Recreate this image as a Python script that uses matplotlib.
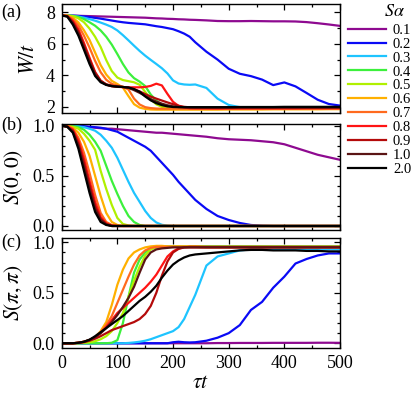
import matplotlib
matplotlib.use("Agg")
import matplotlib.pyplot as plt
from matplotlib.ticker import MultipleLocator

plt.rcParams['font.family'] = ['Liberation Serif', 'DejaVu Serif']
plt.rcParams['mathtext.fontset'] = 'stix'

# time grid (tau t)
T = [0, 10, 20, 30, 40, 50, 60, 70, 80, 90, 100, 110, 120, 130, 140, 150, 160, 170, 180, 190,
     200, 210, 220, 230, 240, 260, 280, 300, 320, 340, 360, 380, 400, 420, 440, 460, 480, 500]

labels = ["0.1", "0.2", "0.3", "0.4", "0.5", "0.6", "0.7", "0.8", "0.9", "1.0", "2.0"]
colors = ["#8e0a90", "#0a0af5", "#1ec4ff", "#3cf03c", "#b0f000", "#ffb000",
          "#ff6a1e", "#ff1414", "#b40a0a", "#5a1414", "#000000"]

# panel (a): W/t
W_01 = [7.80, 7.80, 7.79, 7.78, 7.77, 7.76, 7.75, 7.74, 7.73, 7.72, 7.71, 7.70, 7.69, 7.68, 7.67, 7.66, 7.64, 7.62, 7.61, 7.59, 7.58, 7.56, 7.55, 7.53, 7.52,
        7.49, 7.45, 7.44, 7.44, 7.45, 7.44, 7.43, 7.43, 7.42, 7.38, 7.31, 7.23, 7.14]
W_02 = [7.80, 7.80, 7.79, 7.77, 7.74, 7.70, 7.65, 7.60, 7.54, 7.48, 7.42, 7.37, 7.33, 7.30, 7.27, 7.24, 7.18, 7.12, 7.07, 7.00, 6.93, 6.80, 6.65, 6.45, 6.10,
        5.50, 5.00, 4.42, 4.10, 3.95, 3.73, 3.38, 3.55, 3.30, 2.88, 2.45, 2.18, 2.08]
W_03 = [7.80, 7.80, 7.78, 7.73, 7.66, 7.57, 7.47, 7.35, 7.22, 7.07, 6.85, 6.55, 6.22, 5.88, 5.55, 5.25, 4.98, 4.72, 4.45, 4.12, 3.68, 3.48, 3.42, 3.40, 3.42,
        3.20, 2.52, 2.12, 1.98, 1.95, 1.94, 1.93, 1.93, 1.92, 1.92, 1.92, 1.93, 1.93]
W_04 = [7.80, 7.80, 7.77, 7.71, 7.57, 7.37, 7.15, 6.85, 6.45, 5.95, 5.35, 4.72, 4.18, 3.82, 3.60, 3.32, 2.78, 2.40, 2.15, 2.02, 1.95, 1.91, 1.89, 1.88, 1.88,
        1.88, 1.88, 1.87, 1.88, 1.88, 1.87, 1.88, 1.88, 1.88, 1.88, 1.89, 1.89, 1.89]
W_05 = [7.80, 7.80, 7.76, 7.62, 7.37, 6.97, 6.45, 5.80, 4.97, 4.27, 3.86, 3.70, 3.63, 3.56, 3.40, 2.95, 2.48, 2.16, 2.00, 1.93, 1.90, 1.89, 1.89, 1.88, 1.88,
        1.88, 1.88, 1.88, 1.88, 1.89, 1.89, 1.89, 1.89, 1.89, 1.90, 1.90, 1.90, 1.90]
W_06 = [7.80, 7.79, 7.66, 7.36, 6.86, 6.25, 5.45, 4.65, 4.05, 3.65, 3.45, 3.22, 2.68, 2.17, 1.95, 1.87, 1.83, 1.82, 1.82, 1.82, 1.82, 1.82, 1.82, 1.82, 1.82,
        1.82, 1.82, 1.83, 1.83, 1.83, 1.83, 1.84, 1.84, 1.84, 1.84, 1.84, 1.85, 1.85]
W_07 = [7.80, 7.78, 7.56, 7.16, 6.52, 5.76, 4.92, 4.20, 3.72, 3.46, 3.35, 3.28, 3.10, 2.52, 2.15, 1.98, 1.92, 1.89, 1.88, 1.88, 1.88, 1.88, 1.88, 1.88, 1.88,
        1.88, 1.88, 1.88, 1.88, 1.88, 1.88, 1.88, 1.88, 1.88, 1.88, 1.88, 1.88, 1.88]
W_08 = [7.80, 7.77, 7.46, 6.92, 6.06, 5.12, 4.22, 3.66, 3.41, 3.31, 3.27, 3.25, 3.24, 3.24, 3.24, 3.26, 3.33, 3.47, 3.36, 2.82, 2.32, 2.06, 1.96, 1.91, 1.90,
        1.90, 1.89, 1.90, 1.90, 1.90, 1.90, 1.90, 1.90, 1.90, 1.91, 1.91, 1.91, 1.91]
W_09 = [7.80, 7.76, 7.37, 6.77, 5.92, 5.02, 4.16, 3.66, 3.43, 3.34, 3.29, 3.26, 3.22, 3.11, 2.98, 2.81, 2.65, 2.52, 2.40, 2.28, 2.17, 2.07, 2.00, 1.97, 1.95,
        1.94, 1.94, 1.94, 1.94, 1.94, 1.94, 1.94, 1.94, 1.94, 1.94, 1.94, 1.94, 1.94]
W_10 = [7.80, 7.75, 7.31, 6.66, 5.76, 4.86, 4.06, 3.61, 3.41, 3.33, 3.29, 3.26, 3.21, 3.06, 2.89, 2.69, 2.49, 2.33, 2.20, 2.10, 2.03, 1.99, 1.97, 1.96, 1.96,
        1.96, 1.96, 1.96, 1.96, 1.96, 1.96, 1.96, 1.96, 1.96, 1.96, 1.96, 1.96, 1.96]
W_20 = [7.80, 7.73, 7.22, 6.52, 5.62, 4.72, 3.96, 3.56, 3.39, 3.31, 3.28, 3.26, 3.23, 3.13, 2.96, 2.66, 2.41, 2.23, 2.11, 2.03, 1.99, 1.98, 1.98, 1.98, 1.98,
        1.98, 1.98, 1.98, 1.99, 1.99, 1.99, 1.99, 2.00, 2.00, 2.00, 2.00, 2.00, 2.00]

# panel (b): S(0,0)
B_01 = [1.00, 1.00, 0.995, 0.99, 0.99, 0.985, 0.98, 0.975, 0.97, 0.97, 0.965, 0.96, 0.955, 0.95, 0.945, 0.94, 0.935, 0.93, 0.93, 0.925, 0.92, 0.915, 0.91, 0.905, 0.90,
        0.89, 0.875, 0.865, 0.86, 0.855, 0.845, 0.835, 0.815, 0.78, 0.745, 0.71, 0.685, 0.66]
B_02 = [1.00, 1.00, 1.00, 1.00, 0.995, 0.99, 0.985, 0.98, 0.97, 0.955, 0.94, 0.91, 0.88, 0.85, 0.82, 0.79, 0.75, 0.69, 0.63, 0.57, 0.51, 0.44, 0.38, 0.32, 0.26,
        0.17, 0.10, 0.06, 0.03, 0.01, 0.003, 0.0, 0.0, 0.0, 0.0, 0.0, 0.0, 0.0]
B_03 = [1.00, 1.00, 1.00, 0.995, 0.985, 0.97, 0.95, 0.91, 0.85, 0.78, 0.68, 0.56, 0.44, 0.33, 0.24, 0.15, 0.08, 0.035, 0.012, 0.003, 0.0, 0.0, 0.0, 0.0, 0.0,
        0.0, 0.0, 0.0, 0.0, 0.0, 0.0, 0.0, 0.0, 0.0, 0.0, 0.0, 0.0, 0.0]
B_04 = [1.00, 1.00, 0.995, 0.985, 0.96, 0.91, 0.84, 0.75, 0.60, 0.45, 0.32, 0.20, 0.10, 0.04, 0.01, 0.0, 0.0, 0.0, 0.0, 0.0, 0.0, 0.0, 0.0, 0.0, 0.0,
        0.0, 0.0, 0.0, 0.0, 0.0, 0.0, 0.0, 0.0, 0.0, 0.0, 0.0, 0.0, 0.0]
B_05 = [1.00, 1.00, 0.99, 0.97, 0.92, 0.85, 0.76, 0.55, 0.37, 0.21, 0.08, 0.02, 0.005, 0.0, 0.0, 0.0, 0.0, 0.0, 0.0, 0.0, 0.0, 0.0, 0.0, 0.0, 0.0,
        0.0, 0.0, 0.0, 0.0, 0.0, 0.0, 0.0, 0.0, 0.0, 0.0, 0.0, 0.0, 0.0]
B_06 = [1.00, 1.00, 0.98, 0.93, 0.84, 0.70, 0.50, 0.30, 0.13, 0.04, 0.01, 0.0, 0.0, 0.0, 0.0, 0.0, 0.0, 0.0, 0.0, 0.0, 0.0, 0.0, 0.0, 0.0, 0.0,
        0.0, 0.0, 0.0, 0.0, 0.0, 0.0, 0.0, 0.0, 0.0, 0.0, 0.0, 0.0, 0.0]
B_07 = [1.00, 0.995, 0.97, 0.88, 0.73, 0.53, 0.31, 0.13, 0.04, 0.01, 0.0, 0.0, 0.0, 0.0, 0.0, 0.0, 0.0, 0.0, 0.0, 0.0, 0.0, 0.0, 0.0, 0.0, 0.0,
        0.0, 0.0, 0.0, 0.0, 0.0, 0.0, 0.0, 0.0, 0.0, 0.0, 0.0, 0.0, 0.0]
B_08 = [1.00, 0.995, 0.96, 0.85, 0.67, 0.45, 0.24, 0.09, 0.025, 0.005, 0.0, 0.0, 0.0, 0.0, 0.0, 0.0, 0.0, 0.0, 0.0, 0.0, 0.0, 0.0, 0.0, 0.0, 0.0,
        0.0, 0.0, 0.0, 0.0, 0.0, 0.0, 0.0, 0.0, 0.0, 0.0, 0.0, 0.0, 0.0]
B_09 = [1.00, 0.99, 0.95, 0.82, 0.63, 0.41, 0.20, 0.07, 0.02, 0.0, 0.0, 0.0, 0.0, 0.0, 0.0, 0.0, 0.0, 0.0, 0.0, 0.0, 0.0, 0.0, 0.0, 0.0, 0.0,
        0.0, 0.0, 0.0, 0.0, 0.0, 0.0, 0.0, 0.0, 0.0, 0.0, 0.0, 0.0, 0.0]
B_10 = [1.00, 0.99, 0.94, 0.80, 0.59, 0.37, 0.17, 0.06, 0.015, 0.0, 0.0, 0.0, 0.0, 0.0, 0.0, 0.0, 0.0, 0.0, 0.0, 0.0, 0.0, 0.0, 0.0, 0.0, 0.0,
        0.0, 0.0, 0.0, 0.0, 0.0, 0.0, 0.0, 0.0, 0.0, 0.0, 0.0, 0.0, 0.0]
B_20 = [1.00, 0.99, 0.93, 0.77, 0.55, 0.33, 0.14, 0.04, 0.01, 0.0, 0.0, 0.0, 0.0, 0.0, 0.0, 0.0, 0.0, 0.0, 0.0, 0.0, 0.0, 0.0, 0.0, 0.0, 0.0,
        0.0, 0.0, 0.0, 0.0, 0.0, 0.0, 0.0, 0.0, 0.0, 0.0, 0.0, 0.0, 0.0]

# panel (c): S(pi,pi)
C_01 = [0.0, 0.0, 0.0, 0.0, 0.0, 0.0, 0.0, 0.0, 0.0, 0.0, 0.0, 0.0, 0.0, 0.0, 0.0, 0.0, 0.0, 0.0, 0.0, 0.0, 0.0, 0.0, 0.0, 0.0, 0.0,
        0.0, 0.002, 0.002, 0.003, 0.003, 0.003, 0.004, 0.004, 0.004, 0.004, 0.005, 0.005, 0.004]
C_02 = [0.0, 0.0, 0.0, 0.0, 0.0, 0.0, 0.0, 0.0, 0.0, 0.0, 0.0, 0.0, 0.0, 0.0, 0.0, 0.0, 0.0, 0.0, 0.0, 0.0, 0.01, 0.015, 0.01, 0.008, 0.01,
        0.025, 0.055, 0.10, 0.18, 0.33, 0.41, 0.55, 0.66, 0.79, 0.835, 0.87, 0.89, 0.89]
C_03 = [0.0, 0.0, 0.0, 0.0, 0.0, 0.0, 0.0, 0.0, 0.0, 0.0, 0.0, 0.0, 0.003, 0.008, 0.015, 0.025, 0.04, 0.06, 0.08, 0.10, 0.12, 0.16, 0.24, 0.36, 0.48,
        0.77, 0.86, 0.89, 0.92, 0.93, 0.93, 0.93, 0.93, 0.93, 0.93, 0.93, 0.93, 0.93]
C_04 = [0.0, 0.0, 0.0, 0.0, 0.0, 0.0, 0.0, 0.0, 0.0, 0.005, 0.03, 0.20, 0.46, 0.70, 0.83, 0.90, 0.94, 0.955, 0.96, 0.96, 0.96, 0.96, 0.96, 0.96, 0.96,
        0.96, 0.96, 0.96, 0.96, 0.96, 0.96, 0.96, 0.96, 0.96, 0.96, 0.96, 0.96, 0.96]
C_05 = [0.0, 0.0, 0.0, 0.0, 0.005, 0.01, 0.02, 0.04, 0.07, 0.12, 0.20, 0.30, 0.46, 0.62, 0.76, 0.87, 0.93, 0.95, 0.955, 0.955, 0.955, 0.955, 0.955, 0.955, 0.955,
        0.955, 0.955, 0.955, 0.955, 0.955, 0.955, 0.955, 0.955, 0.955, 0.955, 0.955, 0.955, 0.955]
C_06 = [0.0, 0.0, 0.0, 0.005, 0.015, 0.03, 0.06, 0.12, 0.21, 0.38, 0.58, 0.73, 0.84, 0.90, 0.93, 0.95, 0.96, 0.965, 0.965, 0.96, 0.96, 0.96, 0.96, 0.96, 0.96,
        0.955, 0.955, 0.955, 0.955, 0.955, 0.955, 0.955, 0.955, 0.955, 0.955, 0.955, 0.955, 0.955]
C_07 = [0.0, 0.0, 0.0, 0.005, 0.015, 0.03, 0.06, 0.11, 0.18, 0.27, 0.40, 0.53, 0.66, 0.78, 0.87, 0.92, 0.945, 0.955, 0.955, 0.955, 0.955, 0.955, 0.955, 0.955, 0.955,
        0.95, 0.95, 0.95, 0.95, 0.95, 0.95, 0.95, 0.95, 0.95, 0.95, 0.95, 0.95, 0.95]
C_08 = [0.0, 0.0, 0.0, 0.005, 0.015, 0.03, 0.06, 0.10, 0.16, 0.23, 0.30, 0.35, 0.40, 0.45, 0.50, 0.55, 0.61, 0.68, 0.77, 0.86, 0.91, 0.94, 0.95, 0.95, 0.95,
        0.95, 0.95, 0.95, 0.95, 0.95, 0.95, 0.95, 0.95, 0.95, 0.95, 0.95, 0.95, 0.95]
C_09 = [0.0, 0.0, 0.0, 0.003, 0.01, 0.025, 0.045, 0.07, 0.10, 0.13, 0.15, 0.17, 0.19, 0.21, 0.24, 0.29, 0.37, 0.50, 0.67, 0.81, 0.90, 0.935, 0.95, 0.955, 0.955,
        0.955, 0.955, 0.955, 0.955, 0.955, 0.955, 0.955, 0.955, 0.955, 0.955, 0.955, 0.955, 0.955]
C_10 = [0.0, 0.0, 0.0, 0.005, 0.015, 0.035, 0.06, 0.10, 0.15, 0.21, 0.28, 0.36, 0.45, 0.56, 0.70, 0.83, 0.90, 0.93, 0.94, 0.945, 0.95, 0.95, 0.95, 0.95, 0.95,
        0.95, 0.95, 0.95, 0.95, 0.95, 0.95, 0.95, 0.95, 0.95, 0.95, 0.95, 0.95, 0.95]
C_20 = [0.0, 0.0, 0.0, 0.005, 0.015, 0.035, 0.07, 0.11, 0.15, 0.19, 0.23, 0.27, 0.32, 0.37, 0.42, 0.46, 0.51, 0.57, 0.65, 0.72, 0.78, 0.82, 0.85, 0.87, 0.88,
        0.89, 0.90, 0.91, 0.92, 0.925, 0.925, 0.92, 0.92, 0.92, 0.915, 0.915, 0.91, 0.91]

W_series = [W_01, W_02, W_03, W_04, W_05, W_06, W_07, W_08, W_09, W_10, W_20]
B_series = [B_01, B_02, B_03, B_04, B_05, B_06, B_07, B_08, B_09, B_10, B_20]
C_series = [C_01, C_02, C_03, C_04, C_05, C_06, C_07, C_08, C_09, C_10, C_20]

FW, FH = 415, 393
fig = plt.figure(figsize=(FW / 100, FH / 100), dpi=100)

def rect(top, bottom, left=61.7, right=340.0):
    return [left / FW, 1 - bottom / FH, (right - left) / FW, (bottom - top) / FH]

axA = fig.add_axes(rect(4, 113.3))
axB = fig.add_axes(rect(124, 230))
axC = fig.add_axes(rect(238.3, 348.3))

fs = 13
lfs = 15.5
lw = 1.6
for ax, series in ((axA, W_series), (axB, B_series), (axC, C_series)):
    for s, c, lab in zip(series, colors, labels):
        ax.plot(T, s, color=c, lw=lw, label=lab, solid_joinstyle='round')
    ax.set_xlim(0, 500)
    ax.xaxis.set_major_locator(MultipleLocator(100))
    ax.xaxis.set_minor_locator(MultipleLocator(50))
    ax.tick_params(which='both', direction='in', top=True, right=True, labelsize=fs, width=0.9)
    ax.tick_params(which='major', length=4, pad=5)
    ax.tick_params(which='minor', length=2)
    for sp in ax.spines.values():
        sp.set_linewidth(1.0)

axA.set_ylim(1.59, 8.53)
axA.yaxis.set_major_locator(MultipleLocator(2))
axA.yaxis.set_minor_locator(MultipleLocator(1))
axB.set_ylim(-0.04, 1.017)
axC.set_ylim(-0.05, 1.04)
for ax in (axB, axC):
    ax.yaxis.set_major_locator(MultipleLocator(0.5))
    ax.yaxis.set_minor_locator(MultipleLocator(0.1))
    ax.yaxis.set_major_formatter(matplotlib.ticker.FormatStrFormatter('%.1f'))

axA.tick_params(axis='x', labelbottom=False)
axB.tick_params(axis='x', labelbottom=False)

axA.set_ylabel(r'$W/t$', fontsize=lfs, labelpad=5)
axB.set_ylabel(r'$S(0,0)$', fontsize=lfs, labelpad=5)
axC.set_ylabel(r'$S(\pi,\pi)$', fontsize=lfs, labelpad=5)
axC.set_xlabel(r'$\tau t$', fontsize=lfs, labelpad=1)
fig.align_ylabels([axA, axB, axC])

for ax, tag, yv in ((axA, '(a)', 8.0), (axB, '(b)', 1.0), (axC, '(c)', 1.0)):
    ax.text(-0.218, yv, tag, transform=ax.get_yaxis_transform(), fontsize=fs,
            ha='left', va='center')

handles, labs = axA.get_legend_handles_labels()
leg = fig.legend(handles, labs, loc='upper left', bbox_to_anchor=(347.7 / FW, 1 - 23.5 / FH),
                 frameon=False, fontsize=10.5,
                 handlelength=2.65, handletextpad=0.45, labelspacing=0.05,
                 borderpad=0, borderaxespad=0)
fig.text(394 / FW, 1 - 11 / FH, r'$S\alpha$', fontsize=13, ha='center', va='center')

fig.savefig('out.png', dpi=100)
